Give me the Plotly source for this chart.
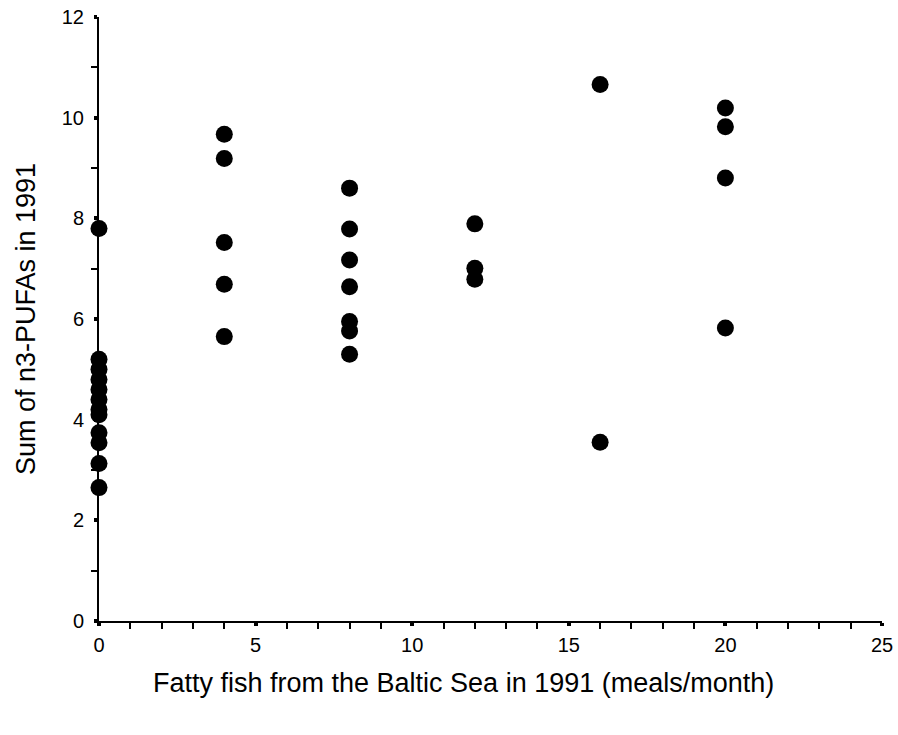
import plotly.graph_objects as go

# Data
x0_vals = [7.80, 5.20, 5.00, 4.80, 4.60, 4.40, 4.20, 4.10, 3.74, 3.54, 3.13, 2.65]
x4_vals = [9.67, 9.19, 7.52, 6.69, 5.65]
x8_vals = [8.60, 7.79, 7.17, 6.64, 5.95, 5.76, 5.30]
x12_vals = [7.89, 7.01, 6.79]
x16_vals = [10.66, 3.55]
x20_vals = [10.19, 9.82, 8.80, 5.82]

groups = [(0, x0_vals), (4, x4_vals), (8, x8_vals), (12, x12_vals), (16, x16_vals), (20, x20_vals)]
xs, ys = [], []
for gx, vals in groups:
    for v in vals:
        xs.append(gx)
        ys.append(v)

x_title = "Fatty fish from the Baltic Sea in 1991 (meals/month)"
y_title = "Sum of n3-PUFAs in 1991"

FONT = "Liberation Sans, Arial, sans-serif"

fig = go.Figure()
fig.add_trace(go.Scatter(
    x=xs, y=ys, mode="markers",
    marker=dict(size=17, color="black", line=dict(width=0)),
    cliponaxis=False, showlegend=False,
))

axis_common = dict(
    showgrid=False, zeroline=False, showline=True, linecolor="black", linewidth=2,
    ticks="outside", ticklen=3, tickwidth=4, tickcolor="black",
    tickfont=dict(family=FONT, size=20, color="black"),
    automargin=False,
)

fig.update_xaxes(
    range=[0, 25], dtick=5, tick0=0,
    minor=dict(dtick=1, ticks="outside", ticklen=6, tickwidth=1.5, tickcolor="black"),
    ticklabelstandoff=2,
    **axis_common,
)
fig.update_yaxes(
    range=[0, 12], dtick=2, tick0=0,
    minor=dict(dtick=1, ticks="outside", ticklen=6, tickwidth=1.5, tickcolor="black"),
    title=dict(text=y_title, font=dict(family=FONT, size=27, color="black"), standoff=18),
    ticklabelstandoff=6,
    **axis_common,
)

fig.add_annotation(
    text=x_title, xref="paper", yref="paper",
    x=0.465, y=-0.1026, xanchor="center", yanchor="middle",
    showarrow=False, font=dict(family=FONT, size=27, color="black"),
)

fig.update_layout(
    width=898, height=735,
    margin=dict(l=99, r=16, t=17, b=114),
    plot_bgcolor="white", paper_bgcolor="white",
)

fig.write_html("out.html")
